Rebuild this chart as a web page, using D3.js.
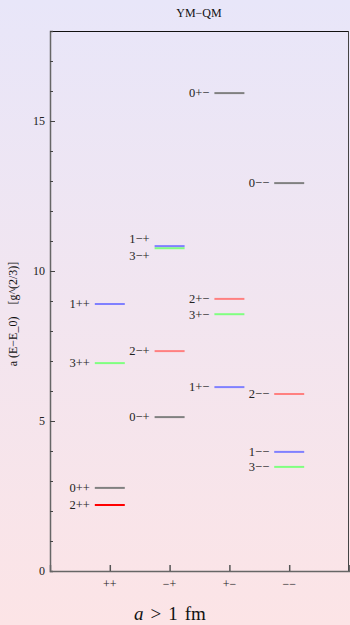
<!DOCTYPE html>
<html><head><meta charset="utf-8">
<script src="https://cdn.jsdelivr.net/npm/d3@7"></script>
<style>html,body{margin:0;padding:0;}svg{display:block;}</style>
</head><body>
<script>
const categories = ["++", "−+", "+−", "−−"];
const stateLabels = ["0++","2++","3++","1++","0−+","2−+","3−+","1−+","1+−","3+−","2+−","0+−","3−−","1−−","2−−","0−−"];
const stateColumn = ["++","++","++","++","−+","−+","−+","−+","+−","+−","+−","+−","−−","−−","−−","−−"];
const stateEnergy = [2.77,2.2,6.93,8.9,5.13,7.33,10.76,10.83,6.13,8.56,9.07,15.93,3.47,3.97,5.9,12.93];
const stateColor = ["#808080","#ff0000","#80ff80","#8080ff","#808080","#ff8080","#80ff80","#8080ff","#8080ff","#80ff80","#ff8080","#808080","#80ff80","#8080ff","#ff8080","#808080"];
const yTicks = [0,5,10,15];

const W = 350, H = 625;
const m = {l:50, r:1, t:31, b:54};
const FONT = "Liberation Serif, DejaVu Serif, serif";
const svg = d3.select("body").append("svg").attr("width", W).attr("height", H);
const defs = svg.append("defs");
const g0 = defs.append("linearGradient").attr("id","bg").attr("x1",0).attr("y1",0).attr("x2",0).attr("y2",1);
g0.append("stop").attr("offset","0%").attr("stop-color","#e8e6f9");
g0.append("stop").attr("offset","100%").attr("stop-color","#fce4e6");
svg.append("rect").attr("width",W).attr("height",H).attr("fill","url(#bg)");

const x = d3.scaleLinear().domain([0,5]).range([m.l, W - m.r]);
const y = d3.scaleLinear().domain([0,18]).range([H - m.b, m.t]);
const xPos = c => x(categories.indexOf(c) + 1);

// frame
svg.append("line").attr("x1",x(0)).attr("x2",x(5)).attr("y1",y(18)+0.5).attr("y2",y(18)+0.5).attr("stroke","#111").attr("stroke-width",1);
svg.append("line").attr("x1",x(5)-0.5).attr("x2",x(5)-0.5).attr("y1",y(18)).attr("y2",y(0)).attr("stroke","#444").attr("stroke-width",1);

// y axis
const yAxis = d3.axisRight(y).tickValues(d3.range(0,19,1)).tickSize(3).tickFormat("");
const ya = svg.append("g").attr("transform",`translate(${x(0)},0)`).call(yAxis);
ya.select(".domain").attr("stroke","#666").attr("stroke-width",1.5);
ya.selectAll(".tick line").attr("stroke","#444").attr("x2", d => yTicks.includes(d) ? 5 : 3);
svg.append("g").selectAll("text").data(yTicks).join("text")
  .attr("x", x(0) - 5).attr("y", d => y(d)).attr("dy","0.35em")
  .attr("text-anchor","end").attr("font-family",FONT).attr("font-size",12).attr("fill","#222")
  .text(d => d);

// x axis
const xAxis = d3.axisTop(x).tickValues([1,2,3,4]).tickSize(6).tickFormat("");
const xa = svg.append("g").attr("transform",`translate(0,${y(0)})`).call(xAxis);
xa.select(".domain").attr("stroke","#666").attr("stroke-width",1.5);
xa.selectAll(".tick line").attr("stroke","#555").attr("stroke-width",1.5);
svg.append("g").selectAll("text").data(categories).join("text")
  .attr("x", d => xPos(d)).attr("y", y(0) + 17)
  .attr("text-anchor","middle").attr("font-family",FONT).attr("font-size",12).attr("fill","#222")
  .text(d => d);

// title & labels
svg.append("text").attr("x", 199).attr("y", 17).attr("text-anchor","middle")
  .attr("font-family",FONT).attr("font-size",12).attr("fill","#111").text("YM−QM");
const xl = svg.append("text").attr("x", 170).attr("y", 620).attr("text-anchor","middle")
  .attr("font-family",FONT).attr("font-size",19).attr("fill","#111");
xl.append("tspan").attr("font-style","italic").text("a");
xl.append("tspan").attr("dx",7).text(">");
xl.append("tspan").attr("dx",7).text("1");
xl.append("tspan").attr("dx",7).text("fm");
const yl = svg.append("text").attr("transform","translate(17,314) rotate(-90)").attr("text-anchor","middle")
  .attr("font-family",FONT).attr("font-size",12).attr("fill","#111");
yl.append("tspan").text("a (E−E_0)");
yl.append("tspan").attr("dx",12).text("[g^(2/3)]");

// levels
const states = stateLabels.map((l,i) => ({label:l, col:stateColumn[i], e:stateEnergy[i], color:stateColor[i], ly:y(stateEnergy[i])}));
categories.forEach(c => {
  const s = states.filter(d => d.col === c).sort((a,b) => a.ly - b.ly);
  for (let i = 1; i < s.length; i++) {
    const sep = s[i].ly - s[i-1].ly;
    if (sep < 12) {
      const mid = (s[i].ly + s[i-1].ly) / 2;
      s[i-1].ly = mid - 8.5; s[i].ly = mid + 8.5;
    }
  }
});
const lv = svg.append("g");
lv.selectAll("line").data(states).join("line")
  .attr("x1", d => xPos(d.col) - 15).attr("x2", d => xPos(d.col) + 15)
  .attr("y1", d => y(d.e)).attr("y2", d => y(d.e))
  .attr("stroke", d => d.color).attr("stroke-width", 2);
lv.selectAll("text").data(states).join("text")
  .attr("x", d => xPos(d.col) - 20).attr("y", d => d.ly).attr("dy","0.35em")
  .attr("text-anchor","end").attr("font-family",FONT).attr("font-size",12.5).attr("fill","#222")
  .text(d => d.label);
</script>
</body></html>
